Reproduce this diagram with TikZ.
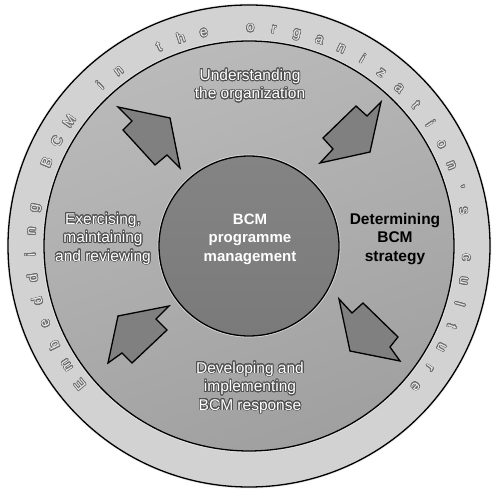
\documentclass[tikz,border=0pt]{standalone}
\usepackage{fontspec}
\setmainfont{Liberation Sans}
\usepackage[copies]{contour}
\usetikzlibrary{calc}
\contournumber{24}
\definecolor{ringfill}{RGB}{210,210,210}
\definecolor{midtop}{RGB}{186,186,186}
\definecolor{midbot}{RGB}{160,160,160}
\definecolor{innerfill}{RGB}{122,122,122}
\definecolor{innertop}{RGB}{132,132,132}
\definecolor{arrowfill}{RGB}{128,128,128}
\definecolor{outlinegray}{RGB}{80,80,80}
\definecolor{ringletter}{RGB}{236,236,236}
\definecolor{ringoutline}{RGB}{110,110,110}
\newcommand{\outl}[1]{\contourlength{0.8pt}\contour{outlinegray}{#1}}
\newcommand{\ringl}[1]{\contourlength{0.6pt}\contour{ringoutline}{#1}}
\begin{document}
\begin{tikzpicture}[x=1pt,y=1pt,
  disc/.style={draw=black,line width=1.3pt},
  blockarrow/.style={draw=black,line width=1.3pt,fill=arrowfill,line join=miter},
  stagetext/.style={align=center,text=white,font=\fontsize{15.5}{18.5}\selectfont},
  centertext/.style={align=center,text=white,font=\bfseries\fontsize{15}{18.5}\selectfont},
  strattext/.style={align=center,text=black,font=\bfseries\fontsize{15.5}{18.5}\selectfont},
  ringtext/.style={text=ringletter,font=\fontsize{14}{14}\selectfont,inner sep=0pt,anchor=base}]
\useasboundingbox (0,0) rectangle (500,492);
\fill[white] (0,0) rectangle (500,492);
% outer ring
\coordinate (c) at (249,246);
\draw[white!85!gray,line width=3pt] (c) circle[radius=241];
\draw[disc,fill=ringfill] (c) circle[radius=241];
% middle disc
\draw[white!80!gray,line width=3pt] (c) circle[radius=205];
\shade[top color=midtop,bottom color=midbot,shading angle=20] (c) circle[radius=205];
\draw[disc] (c) circle[radius=205];
% inner disc
\draw[white!70!gray,line width=3pt] (c) circle[radius=90];
\shade[top color=innertop,bottom color=innerfill] (c) circle[radius=90];
\draw[disc] (c) circle[radius=90];
\node (core) at (c) {};
% arrows
\draw[blockarrow] (118,385) -- (170,374) -- (180,324) -- (167,337) -- (155,327) -- (123,362) -- (132,371) -- cycle;
\draw[blockarrow] (381,390) -- (367,376) -- (356,386) -- (323,354) -- (333,343) -- (320,329) -- (370,340) -- cycle;
\draw[blockarrow] (169,186) -- (118,176) -- (108,129) -- (122,139) -- (132,129) -- (167,162) -- (156,173) -- cycle;
\draw[blockarrow] (339,193) -- (352,179) -- (363,189) -- (398,155) -- (390,145) -- (400,131) -- (350,141) -- cycle;
% texts
\node[stagetext] (understand) at (250,406) {\outl{Understanding}\\\outl{the organization}};
\node[stagetext] (exercise) at (103,253) {\outl{Exercising,}\\\outl{maintaining}\\\outl{and reviewing}};
\node[strattext] (determine) at (395,253) {Determining\\BCM\\strategy};
\node[stagetext] (develop) at (250,104) {\outl{Developing and}\\\outl{implementing}\\\outl{BCM response}};
\node[centertext] (bcm) at (250,253) {BCM\\programme\\management};
% ring letters
\foreach \ch [count=\i from 0] in {E,m,b,e,d,d,i,n,g,{},B,C,M,{},i,n,{},t,h,e,{},o,r,g,a,n,i,z,a,t,i,o,n,',s,{},c,u,l,t,u,r,e}{
  \pgfmathsetmacro{\ang}{219.4-6.18*\i}
  \node[ringtext,rotate=\ang-90] (rl\i) at ($(c)+(\ang:214)$) {\ringl{\ch}};
}
\end{tikzpicture}
\end{document}
